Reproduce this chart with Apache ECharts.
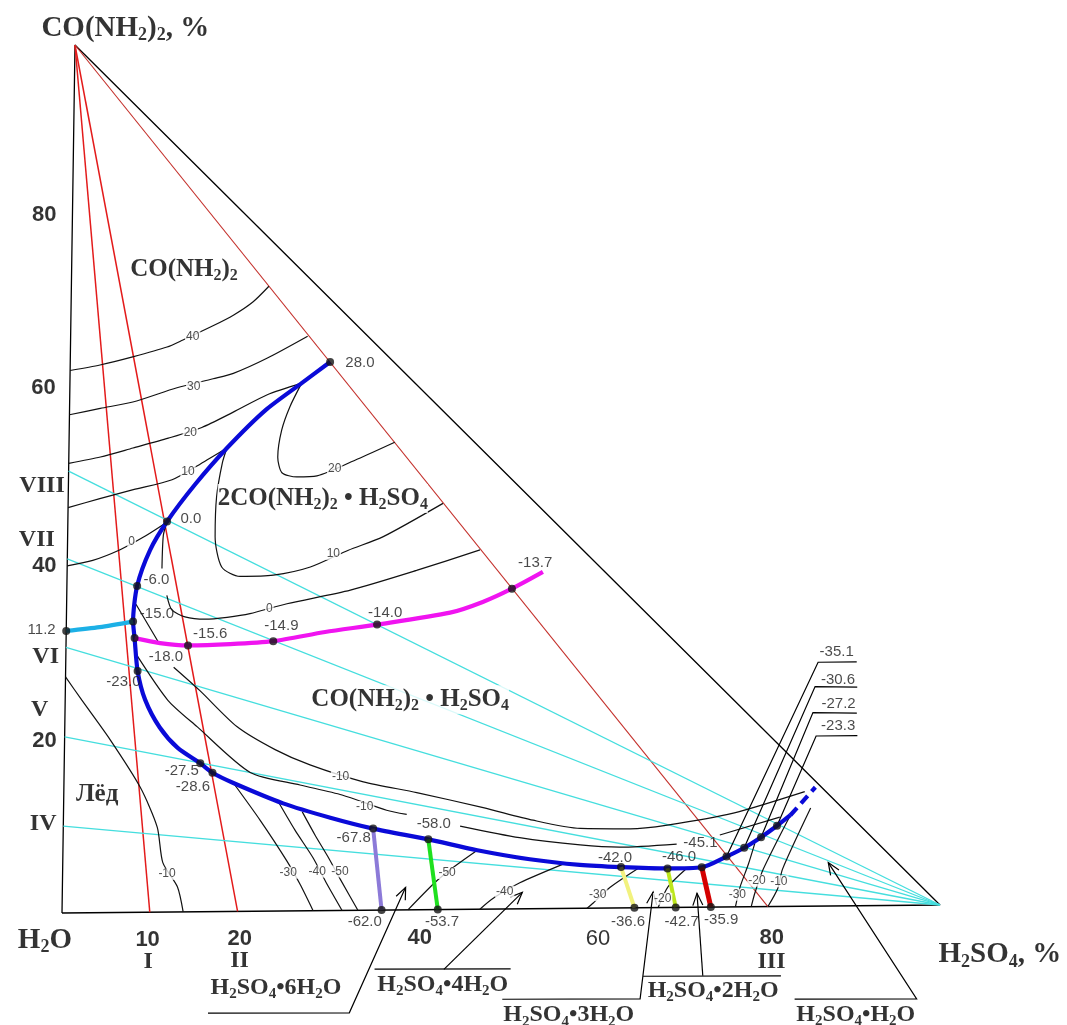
<!DOCTYPE html>
<html>
<head>
<meta charset="utf-8">
<script src="https://cdn.jsdelivr.net/npm/echarts@6/dist/echarts.min.js"></script>
<style>
  html, body { margin: 0; padding: 0; background: #fff; }
  #chart { width: 1067px; height: 1025px; }
</style>
</head>
<body>
<div id="chart"></div>
<script>
// every point is [H2SO4 %, CO(NH2)2 %]; water is the rest

const triangle = [[0, 0], [100, 0], [0, 100], [0, 0]];
const sectionEnds = [10, 20, 80.4];            // red sections I, II, III from the urea vertex
const rayEnds = [50.9, 40.8, 30.6, 20.3, 10.0]; // cyan sections VIII..IV from the H2SO4 vertex

// eutectic (two-salt) line
const eutectic = [[29.6, 63.2], [26.4, 60.8], [22.3, 57.7], [18.0, 53.4], [14.4, 49.2], [11.3, 45.0],
  [9.4, 41.7], [8.0, 37.6], [7.6, 33.5], [7.8, 31.6], [8.2, 27.8], [9.1, 24.5], [10.8, 21.3],
  [12.9, 18.9], [15.5, 17.1], [16.9, 16.0], [19.3, 14.8], [25.0, 12.4], [30.4, 10.7], [35.3, 9.4],
  [41.6, 8.1], [47.2, 6.8], [53.2, 5.7], [58.9, 5.0], [63.6, 4.7], [68.9, 4.5], [72.8, 4.6],
  [75.6, 5.8], [77.6, 6.8], [79.5, 8.0], [81.3, 9.3], [82.8, 10.5]];
const eutecticDashed = [[82.8, 10.5], [85.6, 13.7]];
const iceUreaLine = [[0, 32.5], [3.8, 32.9], [7.6, 33.5]];
const compoundLine = [[7.8, 31.6], [10.7, 31.0], [13.9, 30.7], [18.7, 30.8], [23.6, 31.1], [29.5, 32.1],
  [35.4, 32.9], [43.7, 34.2], [47.4, 35.4], [50.7, 36.9], [54.2, 38.8]];

// eutectic ties down to the binary H2O-H2SO4 side
const tie62 = [[35.3, 9.4], [36.4, 0]];
const tie537 = [[41.6, 8.1], [42.8, 0]];
const tie366 = [[63.6, 4.7], [65.2, 0]];
const tie427 = [[68.9, 4.5], [69.9, 0]];
const tie359 = [[72.8, 4.6], [73.9, 0]];

// isotherms, null = break in the line
const isotherms = [
  [[0, 62.5], [3.4, 63.1], [7.1, 64.0], [11.0, 65.1], [12.8, 65.9], [16.2, 67.5], [18.5, 68.7], [20.7, 70.2], [22.5, 72.0]],
  [[0, 57.4], [3.5, 58.1], [7.2, 58.8], [12.2, 60.4], [16.3, 61.4], [18.6, 62.0], [22.4, 63.7], [27.0, 66.2]],
  [[0, 51.8], [3.6, 52.5], [7.3, 53.5], [11.3, 54.6], [15.1, 55.8], [18.6, 57.5], [22.5, 59.5], [26.4, 60.8]],
  [[0, 46.7], [3.6, 47.7], [7.4, 48.7], [11.8, 49.8], [15.0, 51.6], [18.0, 53.4]],
  [[0, 40.0], [2.9, 40.6], [6.0, 41.8], [8.6, 43.2], [10.8, 44.6], [11.3, 45.0]],
  [[26.4, 60.8], [25.1, 58.1], [24.2, 55.4], [23.8, 52.3], [24.3, 50.5], [26.0, 50.0], [28.3, 50.1], [32.9, 52.0], [37.1, 53.9]],
  [[18.0, 53.4], [17.5, 51.7], [16.9, 47.8], [16.8, 43.2], [17.6, 39.7], [19.7, 38.6], [23.5, 38.7], [27.7, 39.6], [32.0, 41.5], [35.9, 43.0], [42.7, 46.8]],
  [[11.3, 45.0], [10.9, 43.4], [10.8, 39.6], null, [11.4, 36.5], [12.0, 34.8], [13.5, 34.0], [15.8, 33.7], [18.3, 33.9], [20.9, 34.3], [25.1, 35.4], [32.3, 36.9], [39.8, 39.1], [47.0, 41.4]],
  [[7.9, 35.5], [10.7, 30.8], null, [12.3, 28.2], [15.3, 25.5], [19.6, 21.3], [24.0, 18.6], [28.0, 16.8], [34.1, 14.8], [40.2, 13.5], [47.8, 11.7], [53.5, 10.2], [58.9, 9.2], [64.6, 9.1], [68.8, 9.5], [76.3, 10.8], [84.4, 13.2]],
  [[8.1, 29.6], [11.7, 24.4], [15.1, 21.3], [21.2, 16.0], [26.9, 14.5], [31.7, 13.3], [36.8, 11.5], [39.1, 11.0], null, [45.2, 9.6], [52.0, 8.2], [58.9, 7.3], [63.4, 7.0], [69.9, 7.3], null, [74.8, 8.3], [81.6, 10.3]],
  [[0, 27.2], [1.9, 24.5], [5.2, 19.9], [8.7, 14.4], [10.7, 9.8], [11.4, 5.7], [13.1, 2.9], [13.8, 0]],
  [[19.3, 14.8], [22.4, 10.5], [25.5, 5.8], [27.1, 3.0], [28.6, 0]],
  [[24.5, 12.5], [26.4, 9.3], [28.5, 6.1], [30.0, 3.3], [31.9, 0]],
  [[27.2, 11.4], [28.7, 8.7], [30.2, 6.2], [31.7, 3.5], [33.7, 0]],
  [[47.2, 6.8], [44.7, 5.0], [42.4, 3.1], [39.4, 0]],
  [[57.0, 5.1], [52.1, 3.0], [49.3, 1.4], [47.6, 0]],
  [[65.8, 4.7], [62.4, 2.4], [60.5, 0.6], [59.8, 0]],
  [[71.1, 4.5], [69.0, 2.4], [67.9, 0]],
  [[76.7, 0], [77.2, 2.3], [78.1, 4.9], [78.8, 7.3]],
  [[78.5, 0], [78.9, 1.6], [79.8, 4.3], [82.8, 10.5]],
  [[80.4, 0], [81.5, 2.1], [82.0, 4.3], [85.1, 11.3]]
];

const nodes = [[29.6, 63.2], [11.3, 45.0], [8.0, 37.6], [7.6, 33.5], [7.8, 31.6], [8.2, 27.8],
  [15.5, 17.1], [16.9, 16.0], [35.3, 9.4], [41.6, 8.1], [63.6, 4.7], [68.9, 4.5], [72.8, 4.6],
  [75.6, 5.8], [77.6, 6.8], [79.5, 8.0], [81.3, 9.3], [0, 32.5], [13.9, 30.7], [23.6, 31.1],
  [35.4, 32.9], [50.7, 36.9], [36.4, 0], [42.8, 0], [65.2, 0], [69.9, 0], [73.9, 0]];

// temperatures, °C
const tempLabels = [[33.0, 63.1, '28.0'], [14.0, 45.3, '0.0'], [10.2, 38.3, '-6.0'], [10.3, 34.4, '-15.0'],
  [11.4, 29.4, '-18.0'], [6.6, 26.6, '-23.0'], [-2.8, 32.7, '11.2'], [16.4, 32.0, '-15.6'],
  [24.5, 32.9, '-14.9'], [36.3, 34.3, '-14.0'], [53.3, 39.8, '-13.7'], [13.4, 16.2, '-27.5'],
  [14.7, 14.4, '-28.6'], [33.1, 8.3, '-67.8'], [42.2, 9.9, '-58.0'], [34.5, -1.3, '-62.0'],
  [43.3, -1.4, '-53.7'], [62.9, 5.8, '-42.0'], [70.2, 5.8, '-46.0'], [72.6, 7.4, '-45.1'],
  [64.5, -1.6, '-36.6'], [70.6, -1.65, '-42.7'], [75.1, -1.5, '-35.9'],
  [87.8, 29.3, '-35.1'], [88.0, 26.1, '-30.6'], [88.1, 23.3, '-27.2'], [88.1, 20.8, '-23.3']];
const isoLabels = [[13.9, 66.3, '40'], [14.1, 60.5, '30'], [13.8, 55.2, '20'], [13.6, 50.7, '10'],
  [7.3, 42.7, '0'], [30.3, 50.9, '20'], [30.3, 41.1, '10'], [23.1, 34.9, '0'], [31.5, 15.4, '-10'],
  [34.3, 11.9, '-10'], [11.9, 4.4, '-10'], [25.7, 4.4, '-30'], [29.0, 4.5, '-40'], [31.6, 4.5, '-50'],
  [43.8, 4.2, '-50'], [50.4, 2.0, '-40'], [61.0, 1.5, '-30'], [68.4, 1.0, '-20'], [76.9, 1.4, '-30'],
  [79.1, 3.0, '-20'], [81.6, 2.9, '-10']];
const sideTicks = [[-3.2, 80.4, '80'], [-3.0, 60.5, '60'], [-2.6, 40.0, '40'], [-2.3, 19.9, '20'],
  [9.8, -3.2, '10'], [20.3, -3.2, '20'], [40.8, -3.3, '40'], [80.9, -3.6, '80']];
const plainTicks = [[61.1, -3.6, '60']];
const sectionNames = [[-3.0, 49.2, 'VIII'], [-3.5, 43.0, 'VII'], [-2.3, 29.5, 'VI'], [-2.9, 23.4, 'V'],
  [-2.3, 10.3, 'IV'], [9.9, -5.7, 'I'], [20.3, -5.7, 'II'], [80.9, -6.4, 'III']];
const vertexNames = [[5.7, 101.9, 'CO(NH_2)_2, %'], [-1.9, -3.1, 'H_2O'], [106.9, -5.8, 'H_2SO_4, %']];
const fieldNames = [[12.8, 74.0, 'CO(NH_2)_2'], [29.0, 47.5, '2CO(NH_2)_2 • H_2SO_4'],
  [39.3, 24.2, 'CO(NH_2)_2 • H_2SO_4'], [3.8, 13.6, 'Лёд']];
const hydrateNames = [[24.5, -8.8, 'H_2SO_4•6H_2O'], [43.5, -8.7, 'H_2SO_4•4H_2O'],
  [57.9, -12.3, 'H_2SO_4•3H_2O'], [74.3, -9.6, 'H_2SO_4•2H_2O'], [90.6, -12.6, 'H_2SO_4•H_2O']];

// pointer lines for the labels under the base
const leaders = [
  { pts: [[16.8, -11.7], [32.9, -11.8], [39.1, 2.6]], arrow: true },
  { pts: [[35.7, -6.8], [51.2, -6.9]] },
  { pts: [[43.6, -6.9], [52.4, 1.9]], arrow: true },
  { pts: [[50.3, -10.4], [66.0, -10.5], [67.3, 1.8]], arrow: true },
  { pts: [[66.3, -7.9], [82.0, -8.0]] },
  { pts: [[73.1, -7.9], [72.3, 1.6]], arrow: true },
  { pts: [[83.6, -10.7], [97.5, -10.8], [87.2, 5.0]], arrow: true },
  { pts: [[90.1, 28.1], [85.7, 28.1], [75.6, 5.8]] },
  { pts: [[90.2, 25.2], [85.4, 25.3], [77.6, 6.8]] },
  { pts: [[90.2, 22.2], [85.2, 22.3], [79.5, 8.0]] },
  { pts: [[90.3, 19.6], [85.6, 19.6], [81.3, 9.3]] }
];

// the drawing's triangle is slightly skewed, this maps composition onto the plane
const toXY = p => [p[0] + 0.0148 * p[1], p[1] + 0.00922 * p[0]];

const SANS = 'Liberation Sans, Arial, sans-serif';
const SERIF = 'Liberation Serif, Times New Roman, serif';

function chem(str) {
  return str.split(/(_\d)/).filter(Boolean)
    .map(t => t[0] === '_' ? '{s|' + t.slice(1) + '}' : '{b|' + t + '}').join('');
}

function richSet(size, sub) {
  return {
    b: { fontFamily: SERIF, fontWeight: 'bold', fontSize: size, lineHeight: size + 4, color: '#000', verticalAlign: 'middle' },
    s: { fontFamily: SERIF, fontWeight: 'bold', fontSize: sub, lineHeight: sub - 2, color: '#000', verticalAlign: 'bottom' }
  };
}

function curve(pts, color, width, extra) {
  return Object.assign({
    type: 'line',
    data: pts.map(p => p ? toXY(p) : '-'),
    symbol: 'none',
    smooth: 0.25,
    silent: true,
    lineStyle: { color: color, width: width },
    z: 2
  }, extra || {});
}

function straight(pts, color, width, z) {
  return curve(pts, color, width, { smooth: false, z: z || 2 });
}

function textLayer(items, label, fmt) {
  return {
    type: 'scatter',
    data: items.map(t => ({ value: toXY(t), name: fmt ? fmt(t[2]) : t[2] })),
    symbol: 'circle',
    symbolSize: 1,
    itemStyle: { color: 'rgba(0,0,0,0)' },
    silent: true,
    z: 10,
    label: Object.assign({ show: true, position: 'inside', formatter: p => p.name }, label)
  };
}

const series = [];

series.push(straight(triangle, '#000', 1.3, 1));
sectionEnds.forEach((s, i) => {
  series.push(straight([[0, 100], [s, 0]], i < 2 ? '#e31b1b' : '#c4302b', i < 2 ? 1.5 : 1.1, 1));
});
rayEnds.forEach(u => series.push(straight([[100, 0], [0, u]], '#45dede', 1.3, 1)));

isotherms.forEach(line => series.push(curve(line, '#111', 1.2)));

series.push(curve(eutectic, '#0a0ad8', 4.2, { z: 4 }));
series.push(straight(eutecticDashed, '#0a0ad8', 4.2, 4));
series[series.length - 1].lineStyle.type = [10, 6];
series.push(curve(iceUreaLine, '#1cb0e6', 4.2, { z: 4 }));
series.push(curve(compoundLine, '#f014f0', 4.2, { z: 4 }));

series.push(straight(tie62, '#8c7ad8', 4, 4));
series.push(straight(tie537, '#1fe01f', 4, 4));
series.push(straight(tie366, '#f2f27e', 4, 4));
series.push(straight(tie427, '#bce61c', 4, 4));
series.push(straight(tie359, '#d40000', 5, 4));

series.push({
  type: 'custom',
  coordinateSystem: 'cartesian2d',
  silent: true,
  z: 3,
  data: leaders.map((l, i) => [i, 0]),
  renderItem: function (params, api) {
    const l = leaders[params.dataIndex];
    const pts = l.pts.map(p => api.coord(toXY(p)));
    const style = { stroke: '#000', lineWidth: 1.2, fill: null };
    const children = [{ type: 'polyline', shape: { points: pts }, style: style }];
    if (l.arrow) {
      const tip = pts[pts.length - 1];
      const prev = pts[pts.length - 2];
      const dx = tip[0] - prev[0], dy = tip[1] - prev[1];
      const len = Math.hypot(dx, dy);
      const ux = dx / len, uy = dy / len;
      const a = 12, w = 5;
      children.push({
        type: 'polyline',
        shape: { points: [
          [tip[0] - a * ux - w * uy, tip[1] - a * uy + w * ux],
          tip,
          [tip[0] - a * ux + w * uy, tip[1] - a * uy - w * ux]
        ] },
        style: style
      });
    }
    return { type: 'group', children: children };
  }
});

series.push({
  type: 'scatter',
  data: nodes.map(toXY),
  symbol: 'circle',
  symbolSize: 8,
  itemStyle: { color: '#141414' },
  silent: true,
  z: 6
});

series.push(textLayer(tempLabels, { fontFamily: SANS, fontSize: 15, color: '#1a1a1a' }));
series.push(textLayer(isoLabels, { fontFamily: SANS, fontSize: 12, color: '#222', backgroundColor: '#fff', padding: [0, 1] }));
series.push(textLayer(sideTicks, { fontFamily: SANS, fontWeight: 'bold', fontSize: 22, color: '#000' }));
series.push(textLayer(plainTicks, { fontFamily: SANS, fontSize: 22, color: '#000' }));
series.push(textLayer(sectionNames, { fontFamily: SERIF, fontWeight: 'bold', fontSize: 24, color: '#000' }));
series.push(textLayer(vertexNames, { rich: richSet(29, 18) }, chem));
series.push(textLayer(fieldNames, { rich: richSet(25, 16), backgroundColor: '#fff' }, chem));
series.push(textLayer(hydrateNames, { rich: richSet(24, 15) }, chem));

const chart = echarts.init(document.getElementById('chart'));
chart.setOption({
  animation: false,
  backgroundColor: '#fff',
  grid: { left: 0, right: 0, top: 0, bottom: 0 },
  xAxis: { type: 'value', min: -7.061, max: 114.465, show: false },
  yAxis: { type: 'value', min: -12.903, max: 105.184, show: false },
  series: series
});
</script>
</body>
</html>
